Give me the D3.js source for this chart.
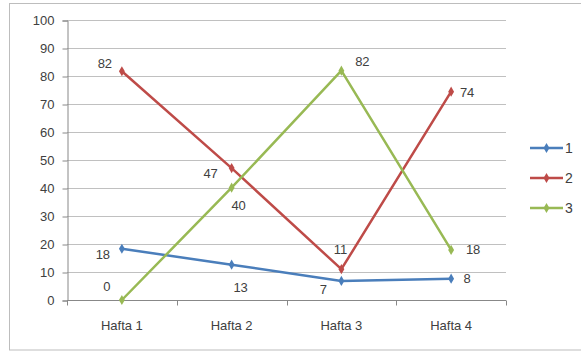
<!DOCTYPE html>
<html>
<head>
<meta charset="utf-8">
<script src="https://cdn.jsdelivr.net/npm/d3@7"></script>
<style>
  html, body { margin: 0; padding: 0; background: #fff; }
  svg { display: block; }
  text { font-family: "Liberation Sans", Arial, sans-serif; font-size: 13px; fill: #404040; }
</style>
</head>
<body>
<svg id="chart" width="581" height="352"></svg>
<script>
const categories = ["Hafta 1", "Hafta 2", "Hafta 3", "Hafta 4"];
const seriesNames = ["1", "2", "3"];
const series1 = [18.3, 12.6, 6.8, 7.6];
const series2 = [81.7, 47.1, 11.0, 74.4];
const series3 = [0, 40.1, 81.9, 17.9];
const labels1 = ["18", "13", "7", "8"];
const labels2 = ["82", "47", "11", "74"];
const labels3 = ["0", "40", "82", "18"];
const yTicks = [0, 10, 20, 30, 40, 50, 60, 70, 80, 90, 100];

const colors = ["#4a7ebb", "#be4b48", "#98b954"];
// label offsets (styling) relative to each point
const labelOffsets = [
  [[-19, 6], [9, 23], [-18, 9], [16, 0]],
  [[-17, -8], [-21, 5], [-1, -20], [16, 1]],
  [[-15, -14], [7, 18], [21, -9], [22, 0]]
];

const data = [
  { name: seriesNames[0], values: series1, labels: labels1 },
  { name: seriesNames[1], values: series2, labels: labels2 },
  { name: seriesNames[2], values: series3, labels: labels3 }
];

const svg = d3.select("#chart");

// outer border
svg.append("rect").attr("x", 9.5).attr("y", 3.5).attr("width", 600).attr("height", 346.5)
  .attr("fill", "#fff").attr("stroke", "#bdbdbd").attr("stroke-width", 1);

const x = d3.scaleBand().domain(categories).range([67, 506]);
const y = d3.scaleLinear().domain([0, 100]).range([300, 20]);

// gridlines
svg.append("g").selectAll("line").data(yTicks.filter(t => t > 0)).join("line")
  .attr("x1", 67).attr("x2", 506)
  .attr("y1", d => Math.round(y(d)) + 0.5).attr("y2", d => Math.round(y(d)) + 0.5)
  .attr("stroke", "#c0c0c0").attr("stroke-width", 1);

// y axis
const yAxis = d3.axisLeft(y).tickValues(yTicks).tickSize(5).tickPadding(8);
const gy = svg.append("g").attr("transform", "translate(67.5,0.5)").call(yAxis);
gy.select(".domain").attr("stroke", "#888");
gy.selectAll(".tick line").attr("stroke", "#888");
gy.selectAll(".tick text").style("font-size", "13px").attr("fill", "#404040")
  .style("font-family", "'Liberation Sans', Arial, sans-serif");

// x axis
const xAxis = d3.axisBottom(x).tickSize(0).tickPadding(20);
const gx = svg.append("g").attr("transform", "translate(0,300.5)").call(xAxis);
gx.select(".domain").attr("stroke", "#888").attr("d", "M67,0H506");
gx.selectAll(".tick text").style("font-size", "13px").attr("fill", "#404040")
  .style("font-family", "'Liberation Sans', Arial, sans-serif");
// category boundary ticks
const bounds = categories.map(c => x(c)).concat([x.range()[1]]);
gx.append("g").selectAll("line").data(bounds).join("line")
  .attr("x1", d => Math.round(d) + 0.5).attr("x2", d => Math.round(d) + 0.5)
  .attr("y1", 0).attr("y2", 5).attr("stroke", "#888");

const cx = c => x(c) + x.bandwidth() / 2;
const diamond = d3.symbol().type(d3.symbolDiamond).size(30);

const line = d3.line().x((d, i) => cx(categories[i])).y(d => y(d));

data.forEach((s, si) => {
  const g = svg.append("g");
  g.append("path").datum(s.values).attr("d", line)
    .attr("fill", "none").attr("stroke", colors[si]).attr("stroke-width", 2.5)
    .attr("stroke-linejoin", "round");
  g.selectAll("path.m").data(s.values).join("path").attr("class", "m")
    .attr("d", diamond)
    .attr("transform", (d, i) => `translate(${cx(categories[i])},${y(d)})`)
    .attr("fill", colors[si]);
  g.selectAll("text").data(s.values).join("text")
    .attr("x", (d, i) => cx(categories[i]) + labelOffsets[si][i][0])
    .attr("y", (d, i) => y(d) + labelOffsets[si][i][1])
    .attr("text-anchor", "middle").attr("dominant-baseline", "central")
    .style("font-size", "13px")
    .text((d, i) => s.labels[i]);
});

// legend
const legend = svg.append("g");
data.forEach((s, si) => {
  const ly = 148 + si * 30;
  legend.append("line").attr("x1", 530).attr("x2", 563).attr("y1", ly).attr("y2", ly)
    .attr("stroke", colors[si]).attr("stroke-width", 2.5);
  legend.append("path").attr("d", diamond).attr("transform", `translate(546.5,${ly})`).attr("fill", colors[si]);
  legend.append("text").attr("x", 565).attr("y", ly).attr("dominant-baseline", "central")
    .style("font-size", "14px").text(s.name);
});
</script>
</body>
</html>
